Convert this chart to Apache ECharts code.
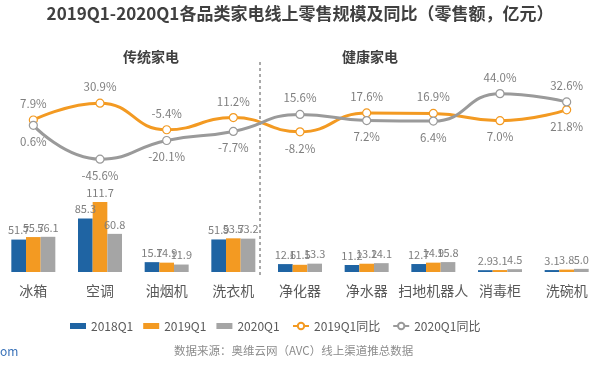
<!DOCTYPE html>
<html><head><meta charset="utf-8">
<script src="https://cdn.jsdelivr.net/npm/echarts@6/dist/echarts.min.js"></script>
<style>html,body{margin:0;padding:0;background:#fff}#c{width:600px;height:366px}</style>
</head><body><div id="c"></div>
<script>
const categories = ['冰箱','空调','油烟机','洗衣机','净化器','净水器','扫地机器人','消毒柜','洗碗机'];
const sales2018 = [51.7, 85.3, 15.7, 51.9, 12.6, 11.2, 12.7, 2.9, 3.1];
const sales2019 = [55.7, 111.7, 14.9, 53.7, 11.5, 13.2, 14.9, 3.1, 3.8];
const sales2020 = [56.1, 60.8, 11.9, 53.2, 13.3, 14.1, 15.8, 4.5, 5.0];
const yoy2019 = [7.9, 30.9, -5.4, 11.2, -8.2, 17.6, 16.9, 7.0, 21.8];
const yoy2020 = [0.6, -45.6, -20.1, -7.7, 15.6, 7.2, 6.4, 44.0, 32.6];
// label placement: true = above
const yoy2019Above = [true, true, true, true, false, true, true, false, false];

const FONT = '"Noto Sans CJK SC", "Open Sans", sans-serif';
const C_BLUE = '#1F64A3', C_ORANGE = '#F39A22', C_GRAY = '#A5A5A5', C_LGRAY = '#9A9A9A';
const LBL = '#7F7F7F';

const chart = echarts.init(document.getElementById('c'));
function barSeries(name, data, color) {
  return {
    name, type: 'bar', data, yAxisIndex: 0, barGap: '0%', barCategoryGap: '34%',
    itemStyle: { color },
    label: { show: true, position: 'top', distance: 4, color: LBL, fontSize: 11, fontFamily: FONT,
      formatter: p => p.value.toFixed(1) }
  };
}
function lineSeries(name, data, color, aboveArr) {
  return {
    name, type: 'line', yAxisIndex: 1, smooth: true, z: 5,
    symbol: 'circle', symbolSize: 8,
    lineStyle: { color, width: 3 },
    itemStyle: { color: '#fff', borderColor: color, borderWidth: 1.2 },
    data: data.map((v, i) => ({ value: v, label: { position: aboveArr[i] ? 'top' : 'bottom' } })),
    label: { show: true, distance: 6, color: LBL, fontSize: 11.5, fontFamily: FONT,
      formatter: p => p.value.toFixed(1) + '%' }
  };
}
const legendText = { color: '#595959', fontSize: 12, fontFamily: FONT };
const option = {
  backgroundColor: '#fff',
  animation: false,
  textStyle: { fontFamily: FONT },
  title: { text: '2019Q1-2020Q1各品类家电线上零售规模及同比（零售额，亿元）', left: 'center', top: 0,
    textStyle: { fontSize: 17, fontWeight: 'bold', color: '#404040', fontFamily: FONT } },
  grid: { left: -5, right: -5, top: 60, bottom: 94, containLabel: false },
  legend: [
    { data: ['2018Q1', '2019Q1', '2020Q1'], left: 65, top: 315, itemWidth: 16, itemHeight: 6, itemGap: 10,
      icon: 'rect', textStyle: legendText },
    { data: ['2019Q1同比', '2020Q1同比'], left: 287, top: 315, itemWidth: 16, itemHeight: 8, itemGap: 12,
      textStyle: legendText }
  ],
  xAxis: { type: 'category', data: categories,
    axisLine: { show: false }, axisTick: { show: false },
    axisLabel: { color: '#595959', fontSize: 14, margin: 12, fontFamily: FONT, interval: 0 } },
  yAxis: [
    { type: 'value', min: 0, max: 338, show: false, splitLine: { show: false } },
    { type: 'value', min: -200, max: 90, show: false, splitLine: { show: false } }
  ],
  series: [
    barSeries('2018Q1', sales2018, C_BLUE),
    barSeries('2019Q1', sales2019, C_ORANGE),
    barSeries('2020Q1', sales2020, C_GRAY),
    lineSeries('2019Q1同比', yoy2019, C_ORANGE, yoy2019Above),
    lineSeries('2020Q1同比', yoy2020, C_LGRAY, yoy2019Above.map(b => !b))
  ],
  graphic: [
    { type: 'line', shape: { x1: 260, y1: 62, x2: 260, y2: 276 },
      style: { stroke: '#555', lineWidth: 1, lineDash: [3, 3] } },
    { type: 'text', left: 123, top: 50,
      style: { text: '传统家电', fill: '#404040', font: 'bold 14px ' + FONT } },
    { type: 'text', left: 342, top: 50,
      style: { text: '健康家电', fill: '#404040', font: 'bold 14px ' + FONT } },
    { type: 'text', left: 174, top: 345,
      style: { text: '数据来源：奥维云网（AVC）线上渠道推总数据', fill: '#8C8C8C', font: '11.5px ' + FONT } },
    { type: 'text', left: 0, top: 345,
      style: { text: 'om', fill: '#3B73B9', font: '12px ' + FONT } }
  ]
};
chart.setOption(option);
</script></body></html>
